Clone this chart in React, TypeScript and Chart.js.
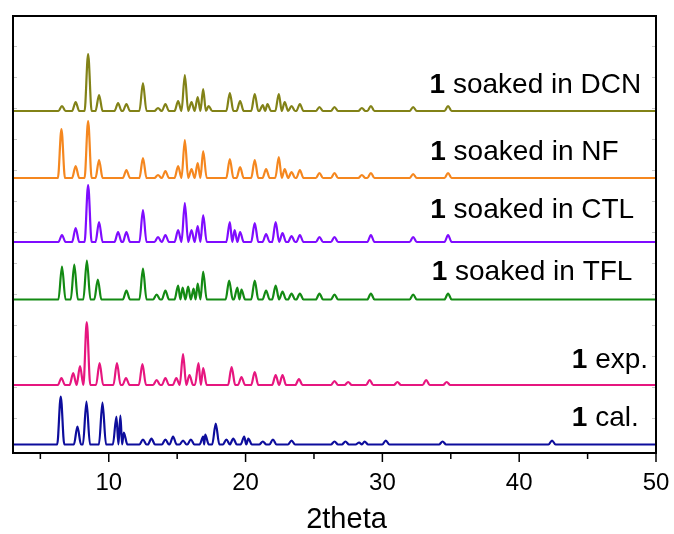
import React, { useEffect, useRef } from "react";
import { Chart, registerables } from "chart.js";

Chart.register(...registerables);

// ---- axis values ----
const xMin = 3;
const xMax = 50;
const xMajorTicks = [10, 20, 30, 40, 50];
const xMinorTicks = [5, 15, 25, 35, 45];
const xTitle = "2theta";
const yMin = 0;
const yMax = 437;
const yFaintTicks = [407, 376, 345, 314, 283, 252, 221, 190, 159, 128, 97, 66, 35];

// ---- series (top to bottom) ----
const seriesBold = ["1", "1", "1", "1", "1", "1"];
const seriesLabels = [" soaked in DCN", " soaked in NF", " soaked in CTL", " soaked in TFL", " exp.", " cal."];
const seriesOffsets = [342, 275, 211, 153.5, 68, 8.5];

const dcnPeakPos = [6.58, 7.58, 8.49, 9.29, 10.68, 11.29, 12.5, 13.6, 14.14, 15.07, 15.56, 16.05, 16.5, 16.9, 17.3, 18.85, 19.6, 20.67, 21.26, 21.6, 22.43, 22.86, 23.36, 23.97, 25.4, 26.5, 28.5, 29.16, 32.25, 34.8];
const dcnPeakHeight = [5, 9, 57, 16, 8, 7, 28, 3, 7, 10, 36, 9, 14, 22, 5, 18, 10, 17, 6, 7, 17, 9, 5, 7, 4, 4, 3, 5, 4, 5];

const nfPeakPos = [6.54, 7.58, 8.49, 9.29, 11.29, 12.5, 13.6, 14.14, 15.07, 15.56, 16.05, 16.5, 16.9, 18.85, 19.6, 20.67, 21.5, 22.43, 22.86, 23.36, 23.97, 25.4, 26.5, 28.5, 29.16, 32.25, 34.8];
const nfPeakHeight = [49, 12, 57, 18, 8, 20, 3, 7, 12, 38, 9, 15, 27, 19, 11, 18, 9, 21, 9, 6, 8, 5, 5, 3, 5, 4, 5];

const ctlPeakPos = [6.58, 7.58, 8.49, 9.29, 10.68, 11.29, 12.5, 13.6, 14.14, 15.07, 15.56, 16.05, 16.5, 16.9, 18.85, 19.2, 19.6, 20.67, 21.5, 22.2, 22.7, 23.36, 23.97, 25.4, 26.5, 29.16, 32.25, 34.8];
const ctlPeakHeight = [7, 14, 57, 20, 10, 10, 32, 5, 7, 12, 39, 12, 16, 27, 20, 12, 10, 19, 8, 20, 9, 6, 7, 5, 5, 7, 5, 7];

const tflPeakPos = [6.58, 7.48, 8.4, 9.2, 11.29, 12.5, 13.5, 14.14, 15.07, 15.4, 15.8, 16.2, 16.5, 16.9, 18.8, 19.4, 19.7, 20.67, 21.5, 22.2, 22.7, 23.36, 23.97, 25.4, 26.5, 29.16, 32.25, 34.8];
const tflPeakHeight = [33, 35, 39, 20, 9, 31, 5, 9, 14, 12, 13, 11, 16, 28, 19, 12, 10, 19, 9, 14, 8, 6, 6, 6, 5, 6, 5, 6];

const expPeakPos = [6.54, 7.4, 7.9, 8.39, 9.33, 10.6, 11.26, 12.46, 13.5, 14.14, 14.94, 15.43, 15.9, 16.56, 16.9, 18.98, 19.7, 20.67, 22.2, 22.7, 23.9, 26.5, 27.5, 29.07, 31.1, 33.2, 34.7];
const expPeakHeight = [7, 12, 19, 63, 22, 22, 7, 21, 5, 7, 7, 31, 10, 22, 17, 18, 8, 13, 10, 10, 6, 4, 3, 5, 3, 5, 3];

const calPeakPos = [6.49, 7.71, 8.37, 9.54, 10.56, 10.85, 11.1, 12.5, 13.12, 14.14, 14.7, 15.43, 16.0, 16.9, 17.05, 17.82, 18.6, 19.1, 19.9, 20.2, 21.26, 22.0, 23.36, 26.5, 27.3, 28.3, 28.7, 30.25, 34.4, 42.4];
const calPeakHeight = [48, 18, 43, 42, 28, 29, 12, 5, 6, 5, 8, 4, 5, 8, 10, 21, 5, 6, 8, 6, 3, 5, 4, 3, 3, 2, 3, 4, 3, 4];

const seriesPeakPos = [dcnPeakPos, nfPeakPos, ctlPeakPos, tflPeakPos, expPeakPos, calPeakPos];
const seriesPeakHeight = [dcnPeakHeight, nfPeakHeight, ctlPeakHeight, tflPeakHeight, expPeakHeight, calPeakHeight];

// ---- styles ----
const seriesColors = ["#828217", "#f5871f", "#7f0cff", "#138a13", "#e6167f", "#0d0d9c"];
const labelAnchors = [
  { x: 33.45, dy: 17.7 },
  { x: 33.5, dy: 18 },
  { x: 33.5, dy: 24 },
  { x: 33.6, dy: 19.5 },
  { x: 43.85, dy: 17 },
  { x: 43.85, dy: 18.5 },
];
const FONT = "'Liberation Sans', Arial, sans-serif";

function buildPoints(pos: number[], h: number[], offset: number) {
  const pts: { x: number; y: number }[] = [{ x: xMin, y: offset }];
  const W = 0.26;
  for (let i = 0; i < pos.length; i++) {
    const gl = i > 0 ? (pos[i] - pos[i - 1]) / 2 : W;
    const gr = i < pos.length - 1 ? (pos[i + 1] - pos[i]) / 2 : W;
    const wl = Math.min(W, gl);
    const wr = Math.min(W, gr);
    pts.push({ x: pos[i] - wl, y: offset });
    pts.push({ x: pos[i], y: offset + h[i] });
    pts.push({ x: pos[i] + wr, y: offset });
  }
  pts.push({ x: xMax, y: offset });
  return pts;
}

const decorPlugin = {
  id: "decor",
  afterDraw(chart: any) {
    const { ctx, chartArea } = chart;
    const { left, right, top, bottom } = chartArea;
    const xs = chart.scales.x;
    const ys = chart.scales.y;
    ctx.save();
    // faint inner y ticks
    ctx.strokeStyle = "#c8c8c8";
    ctx.lineWidth = 1;
    for (const v of yFaintTicks) {
      const py = Math.round(ys.getPixelForValue(v)) + 0.5;
      ctx.beginPath();
      ctx.moveTo(left, py);
      ctx.lineTo(left + 4, py);
      ctx.moveTo(right, py);
      ctx.lineTo(right - 4, py);
      ctx.stroke();
    }
    // frame
    ctx.strokeStyle = "#000";
    ctx.lineWidth = 2;
    ctx.strokeRect(left, top, right - left, bottom - top);
    // x ticks
    ctx.lineWidth = 1.5;
    for (const v of xMajorTicks) {
      const px = xs.getPixelForValue(v);
      ctx.beginPath();
      ctx.moveTo(px, bottom);
      ctx.lineTo(px, bottom + 9);
      ctx.stroke();
    }
    for (const v of xMinorTicks) {
      const px = xs.getPixelForValue(v);
      ctx.beginPath();
      ctx.moveTo(px, bottom);
      ctx.lineTo(px, bottom + 6);
      ctx.stroke();
    }
    // tick labels
    ctx.fillStyle = "#000";
    ctx.font = `24px ${FONT}`;
    ctx.textAlign = "center";
    ctx.textBaseline = "alphabetic";
    for (const v of xMajorTicks) {
      ctx.fillText(String(v), xs.getPixelForValue(v), bottom + 37);
    }
    // axis title
    ctx.font = `29px ${FONT}`;
    ctx.fillText(xTitle, (left + right) / 2 + 12, bottom + 75);
    // series labels
    ctx.textAlign = "left";
    for (let i = 0; i < seriesLabels.length; i++) {
      const a = labelAnchors[i];
      const px = xs.getPixelForValue(a.x);
      const py = ys.getPixelForValue(seriesOffsets[i] + a.dy);
      ctx.font = `bold 28px ${FONT}`;
      ctx.fillText(seriesBold[i], px, py);
      const w = ctx.measureText(seriesBold[i]).width;
      ctx.font = `28px ${FONT}`;
      ctx.fillText(seriesLabels[i], px + w, py);
    }
    ctx.restore();
  },
};

export default function App() {
  const ref = useRef<HTMLCanvasElement | null>(null);
  useEffect(() => {
    document.body.style.margin = "0";
    const canvas = ref.current;
    if (!canvas) return;
    const datasets = seriesLabels.map((lab, i) => ({
      label: seriesBold[i] + lab,
      data: buildPoints(seriesPeakPos[i], seriesPeakHeight[i], seriesOffsets[i]),
      borderColor: seriesColors[i],
      backgroundColor: seriesColors[i],
      borderWidth: 2.2,
      pointRadius: 0,
      cubicInterpolationMode: "monotone" as const,
      fill: false,
    }));
    const chart = new Chart(canvas, {
      type: "line",
      data: { datasets },
      options: {
        responsive: false,
        animation: false,
        devicePixelRatio: 1,
        layout: { padding: { left: 13, top: 16, right: 18, bottom: 81 } },
        plugins: { legend: { display: false }, tooltip: { enabled: false } },
        scales: {
          x: { type: "linear", min: xMin, max: xMax, display: false },
          y: { type: "linear", min: yMin, max: yMax, display: false },
        },
      },
      plugins: [decorPlugin],
    });
    return () => chart.destroy();
  }, []);
  return (
    <div style={{ width: 674, height: 534, background: "#fff" }}>
      <canvas ref={ref} width={674} height={534} style={{ display: "block" }} />
    </div>
  );
}
